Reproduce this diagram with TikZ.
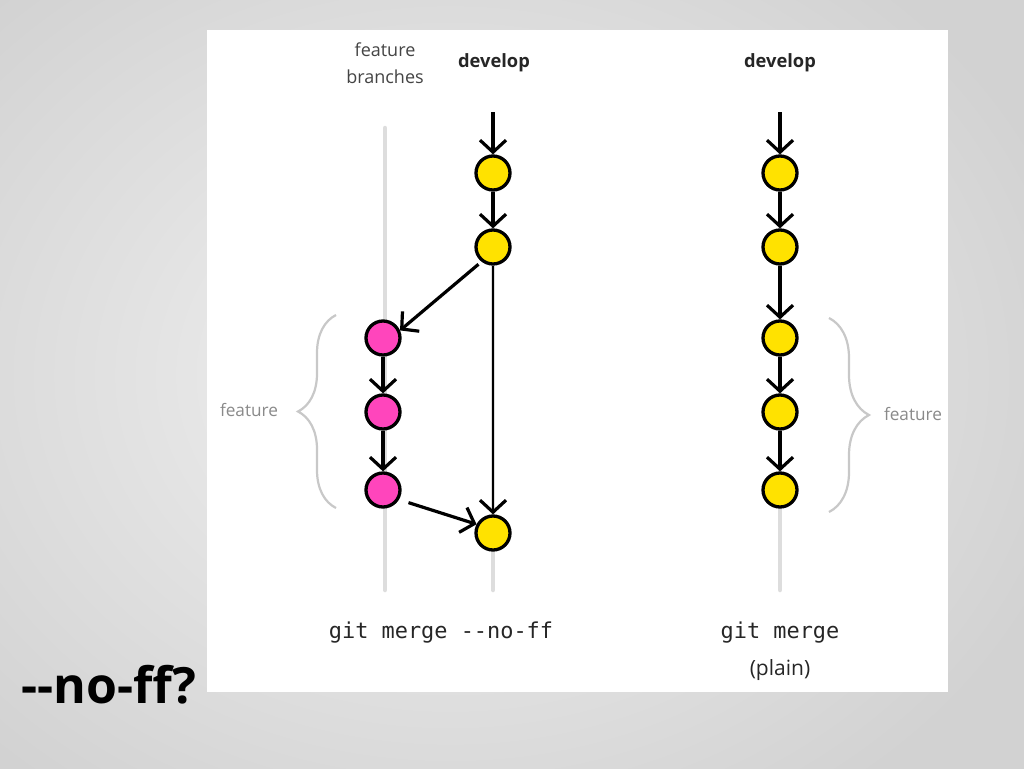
\documentclass[tikz,border=0pt]{standalone}
\usepackage{fontspec}
\setmainfont{Open Sans}
\newfontfamily\monofam{DejaVu Sans Mono}
\usetikzlibrary{arrows.meta,decorations.pathreplacing}
\definecolor{bgin}{HTML}{F2F2F2}
\definecolor{bgout}{HTML}{D2D2D2}
\definecolor{devyellow}{HTML}{FFE200}
\definecolor{featpink}{HTML}{FF45BC}
\definecolor{trackgray}{HTML}{DDDDDD}
\definecolor{bracegray}{HTML}{C8C8C8}
\definecolor{labelgray}{HTML}{8A8A8A}
\definecolor{darklabel}{HTML}{444444}
\tikzset{
  commit/.style={circle,draw=black,line width=3.3pt,minimum size=34pt,inner sep=0pt},
  devc/.style={commit,fill=devyellow},
  featc/.style={commit,fill=featpink},
  arr/.style={-{Straight Barb[length=12pt,width=26pt,line width=3.2pt]},line width=3.2pt,black},
  track/.style={line width=4.5pt,trackgray,line cap=round},
  bracestyle/.style={decorate,line width=2.2pt,bracegray},
  headlabel/.style={font=\fontsize{18.3}{21}\selectfont\bfseries,text=black!85},
  softlabel/.style={font=\fontsize{17.2}{20}\selectfont,text=labelgray},
  monolabel/.style={font=\monofam\fontsize{21.9}{26}\selectfont,text=black!85},
}
\begin{document}
\begin{tikzpicture}[x=1pt,y=-1pt]
\useasboundingbox (0,0) rectangle (1024,768);
\shade[inner color=bgin,outer color=bgout] (-200,-150) rectangle (1100,900);
\fill[white] (207,30) rectangle (948,692);

% tracks
\draw[track] (385,128) -- (385,590);
\draw[track] (493,120) -- (493,590);
\draw[track] (780,120) -- (780,590);

% labels
\node[font=\fontsize{18}{21}\selectfont,text=darklabel,align=center] (fb) at (385,63) {feature\\[6pt]branches};
\node[headlabel] (dl) at (494,63) {develop};
\node[headlabel] (dr) at (780,63) {develop};

% left diagram
\node[devc] (d1) at (493,173) {};
\node[devc] (d2) at (493,247) {};
\node[featc] (p1) at (383,338) {};
\node[featc] (p2) at (383,412) {};
\node[featc] (p3) at (383,490) {};
\node[devc] (m) at (493,533) {};
\coordinate (tl) at (493,112);
\draw[arr] (tl) -- (d1);
\draw[arr] (d1) -- (d2);
\draw[arr,shorten <=4pt] (d2.232) -- (p1.24);
\draw[arr] (p1) -- (p2);
\draw[arr] (p2) -- (p3);
\draw[arr,line width=2.4pt] (d2) -- (m);
\draw[arr,shorten <=10pt] (p3.-31) -- (m.152);

% right diagram
\node[devc] (r1) at (780,173) {};
\node[devc] (r2) at (780,247) {};
\node[devc] (r3) at (780,338) {};
\node[devc] (r4) at (780,412) {};
\node[devc] (r5) at (780,490) {};
\coordinate (tr) at (780,112);
\draw[arr] (tr) -- (r1);
\draw[arr] (r1) -- (r2);
\draw[arr] (r2) -- (r3);
\draw[arr] (r3) -- (r4);
\draw[arr] (r4) -- (r5);

% braces
\draw[bracestyle,decoration={brace,amplitude=38pt}] (336,508) -- (336,315);
\draw[bracestyle,decoration={brace,amplitude=40pt}] (829,318) -- (829,512);
\node[softlabel] (fl) at (249,410) {feature};
\node[softlabel] (fr) at (913,414) {feature};

% captions
\node[monolabel] (c1) at (441,633) {git merge -{}-no-ff};
\node[monolabel] (c2) at (780,633) {git merge};
\node[font=\fontsize{21}{24}\selectfont,text=black!85] (c3) at (780,670) {(plain)};

% title
\node[font=\fontsize{50}{54}\selectfont\bfseries,anchor=base west,inner sep=0pt] (title) at (21,703) {-{}-no-ff?};
\end{tikzpicture}
\end{document}
